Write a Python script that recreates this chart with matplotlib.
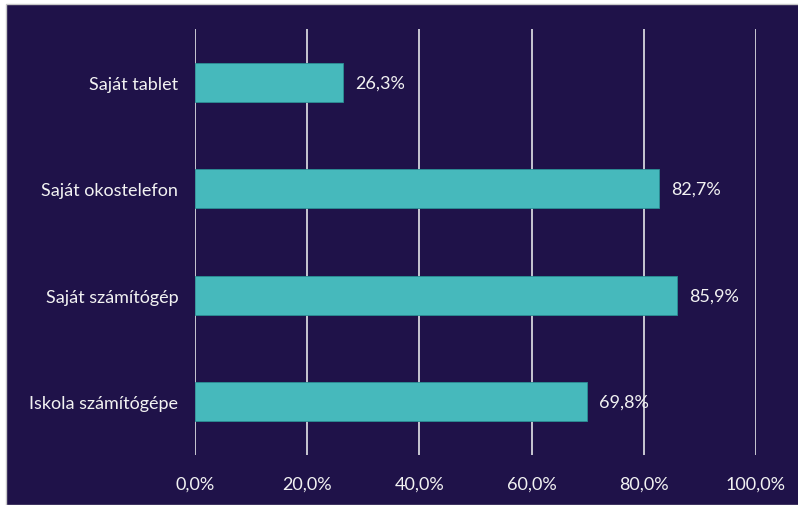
import matplotlib.pyplot as plt
from matplotlib.patches import Rectangle

categories = ["Iskola számítógépe", "Saját számítógép", "Saját okostelefon", "Saját tablet"]
values = [69.8, 85.9, 82.7, 26.3]
ticks = [0, 20, 40, 60, 80, 100]

navy = "#1f1249"
teal = "#46b9bc"
txt = "#f2f2f2"

plt.rcParams['font.family'] = ['Lato', 'DejaVu Sans']

fig = plt.figure(figsize=(7.98, 5.06), dpi=100)
fig.patch.set_facecolor("white")
# dark panel, leaving a thin white margin on the left and top
fig.patches.append(Rectangle((6 / 798, 0), 1, 1 - 5 / 506, transform=fig.transFigure,
                             facecolor=navy, edgecolor="#c8c8c8", linewidth=1, zorder=-10))

ax = fig.add_axes([195 / 798, 50 / 506, 561 / 798, 426 / 506])
ax.set_facecolor("none")
ax.barh(range(len(categories)), values, height=0.365, color=teal,
        edgecolor="#2a8f95", linewidth=0.6, zorder=3)

for i, v in enumerate(values):
    ax.text(v + 2.2, i, f"{v:.1f}%".replace(".", ","), va="center", ha="left",
            color=txt, fontsize=13)

ax.set_xlim(0, 100)
ax.set_ylim(-0.5, len(categories) - 0.5)
ax.set_xticks(ticks)
ax.set_xticklabels([f"{t:.1f}%".replace(".", ",") for t in ticks], color=txt, fontsize=13)
ax.set_yticks(range(len(categories)))
ax.set_yticklabels(categories, color=txt, fontsize=13)
ax.tick_params(length=0, pad=12, axis="y")
ax.tick_params(length=0, pad=15, axis="x")
ax.xaxis.grid(True, color="#d4d4dc", linewidth=1.3, zorder=0)
for s in ax.spines.values():
    s.set_visible(False)

fig.savefig("out.png", dpi=100, facecolor=fig.get_facecolor())
